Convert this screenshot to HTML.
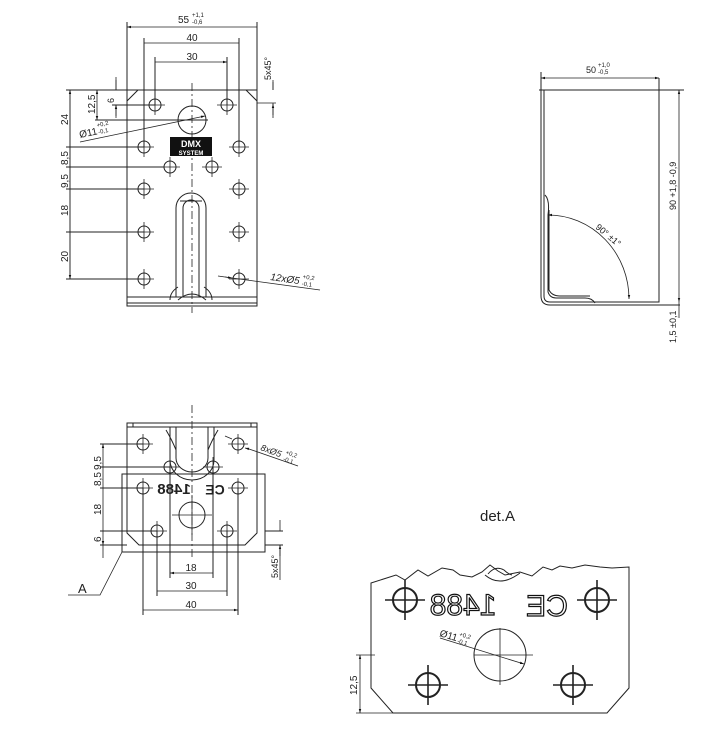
<!DOCTYPE html>
<html><head><meta charset="utf-8"><style>
html,body{margin:0;padding:0;background:#fff;}
svg{display:block;}
text{font-family:"Liberation Sans",sans-serif;fill:#222;}
</style></head><body>
<svg width="714" height="751" viewBox="0 0 714 751" xmlns="http://www.w3.org/2000/svg">
<defs>
<marker id="a" viewBox="0 0 10 10" refX="10" refY="5" markerWidth="7" markerHeight="5" orient="auto-start-reverse"><path d="M0,2 L10,5 L0,8z" fill="#111"/></marker>
<g id="h"><circle r="6" fill="none" stroke="#222" stroke-width="1"/><path d="M-10,0H10M0,-10V10" stroke="#222" stroke-width="0.8"/></g>
<g id="hb"><circle r="13" fill="none" stroke="#222" stroke-width="1"/><path d="M-20,0H20M0,-20V20" stroke="#222" stroke-width="0.8"/></g>
</defs>
<g stroke="#222" stroke-width="1" fill="none">
<!-- ===== TOP-LEFT VIEW ===== -->
<rect x="127" y="90" width="130" height="216"/>
<path d="M127,297H257M127,303H257"/>
<path d="M138,90L127,101M246,90L257,101"/>
<path d="M176,297V208A15,15 0 0 1 206,208V297"/>
<path d="M183,297V208A8,8 0 0 1 199,208V297"/>
<path d="M180,201H202M178,287Q170,292 170,300M204,287Q212,292 212,300M178,300Q192,288 206,300"/>
<path d="M192,83V313" stroke-dasharray="8,3,2,3" stroke-width="0.8"/>
<!-- dims top -->
<path d="M127,90V22M257,90V22M144,147V38M239,147V38M155,105V57M227,105V57"/>
<path d="M127,27H257M144,43H239M155,62H227" marker-start="url(#a)" marker-end="url(#a)" stroke-width="0.8"/>
<!-- left dims -->
<path d="M66,90H127M66,147H144M66,167H164M66,189H144M66,232H144M66,279H144M95,120H208M112,105H155"/>
<path d="M70,90V279" stroke-width="0.8"/>
<path d="M70,90V147M70,147V167M70,167V189M70,189V232M70,232V279" marker-start="url(#a)" marker-end="url(#a)" stroke-width="0.8"/>
<path d="M97,90V120" marker-start="url(#a)" marker-end="url(#a)" stroke-width="0.8"/>
<path d="M116,77V90M116,105V118M112,90H127" stroke-width="0.8"/>
<path d="M116,80V90M116,116V105" marker-end="url(#a)" stroke-width="0.8"/>
<path d="M257,103H276M273,80V90M273,118V103" stroke-width="0.8"/>
<path d="M273,82V90M273,115V104" marker-end="url(#a)" stroke-width="0.8"/>
<path d="M80,142L205,116" stroke-width="0.8" marker-end="url(#a)"/>
<path d="M225,277L320,290" stroke-width="0.8"/>
<path d="M218,276L232,278" marker-end="url(#a)" stroke-width="0.8"/>
<!-- ===== RIGHT VIEW ===== -->
<path d="M541,90V296Q541,305 550,305H680M544,90V296Q544,302 550,302H659V90H539"/>
<path d="M541,90H544"/>
<path d="M545,195Q550,200 548,215V292Q550,298 556,298H585Q592,298 595,303"/>
<path d="M549,210V290Q552,296 560,296H590"/>
<path d="M659,78V90M541,72V90"/>
<path d="M541,78H659" marker-start="url(#a)" marker-end="url(#a)" stroke-width="0.8"/>
<path d="M659,90H684"/>
<path d="M679,90V302" marker-start="url(#a)" marker-end="url(#a)" stroke-width="0.8"/>
<path d="M679,302V318" stroke-width="0.8"/>
<path d="M548,215A81,84 0 0 1 629,299" marker-start="url(#a)" marker-end="url(#a)" stroke-width="0.8"/>
<!-- ===== BOTTOM-LEFT VIEW ===== -->
<path d="M127,474V423H257V474"/>
<path d="M127,427H257M133,423V427M251,423V427"/>
<rect x="122" y="474" width="143" height="78"/>
<path d="M127,474V533L139,545H245L257,533V474"/>
<path d="M170,427V460A22,20 0 0 0 214,460V427"/>
<path d="M176,427V458A16,14 0 0 0 208,458V427"/>
<path d="M166,430Q172,440 176,450M218,430Q212,440 208,450"/>
<path d="M192,405V560" stroke-dasharray="8,3,2,3" stroke-width="0.8"/>
<path d="M100,444H143M100,467H170M100,488H143M100,531H157M100,545H127M265,545H283M265,531H283"/>
<path d="M103,444V467M103,467V488M103,488V531M103,531V545" marker-start="url(#a)" marker-end="url(#a)" stroke-width="0.8"/>
<path d="M103,545V558" stroke-width="0.8"/>
<path d="M280,520V531M280,556V545" marker-end="url(#a)" stroke-width="0.8"/>
<path d="M280,545V580" stroke-width="0.8"/>
<path d="M170,467V578M213,467V578M157,531V596M227,531V596M143,488V615M238,488V615"/>
<path d="M170,573H213M157,591H227M143,610H238" marker-start="url(#a)" marker-end="url(#a)" stroke-width="0.8"/>
<path d="M122,552L100,595H68" stroke-width="0.8"/>
<path d="M225,436L232,439M249,449L245,448" marker-end="url(#a)" stroke-width="0.8"/>
<path d="M249,449L298,466" stroke-width="0.8"/>
<!-- ===== DET A ===== -->
<path d="M371,688V583L396,575L405,580L418,570L428,576L442,568L453,570L460,575L472,577L482,572L490,565L498,571L505,575L520,572L532,576L543,567L552,570L560,566L572,568L585,565L600,567L612,568L629,567V688L607,713H393Z"/>
<path d="M488,574Q495,565 504,570Q508,574 512,575M485,575Q500,588 520,573"/>
<path d="M356,655H375M356,713H393" stroke-width="0.8"/>
<path d="M360,655V713" marker-start="url(#a)" marker-end="url(#a)" stroke-width="0.8"/>
<path d="M440,638L524,664" stroke-width="0.8" marker-end="url(#a)"/>
</g>
<!-- holes -->
<use href="#h" x="155" y="105"/><use href="#h" x="227" y="105"/>
<circle cx="192" cy="120" r="14" fill="none" stroke="#222"/>
<use href="#h" x="144" y="147"/><use href="#h" x="239" y="147"/>
<use href="#h" x="170" y="167"/><use href="#h" x="212" y="167"/>
<use href="#h" x="144" y="189"/><use href="#h" x="239" y="189"/>
<use href="#h" x="144" y="232"/><use href="#h" x="239" y="232"/>
<use href="#h" x="144" y="279"/><use href="#h" x="239" y="279"/>
<rect x="170" y="137" width="42" height="19" fill="#111"/>
<text x="191" y="147" font-size="9" font-weight="bold" text-anchor="middle" style="fill:#fff">DMX</text>
<text x="191" y="155" font-size="6" font-weight="bold" text-anchor="middle" style="fill:#fff">SYSTEM</text>
<use href="#h" x="143" y="444"/><use href="#h" x="238" y="444"/>
<use href="#h" x="170" y="467"/><use href="#h" x="213" y="467"/>
<use href="#h" x="143" y="488"/><use href="#h" x="238" y="488"/>
<use href="#hb" x="192" y="515"/>
<use href="#h" x="157" y="531"/><use href="#h" x="227" y="531"/>
<text transform="translate(174,490) scale(-1,1)" x="0" y="0" font-size="15" font-weight="bold" text-anchor="middle" dominant-baseline="middle">1488</text>
<text transform="translate(215,491) scale(-1,1)" font-size="14" font-weight="bold" text-anchor="middle" dominant-baseline="middle">CE</text>
<g transform="translate(405,600) scale(2)"><use href="#h"/></g>
<g transform="translate(597,600) scale(2)"><use href="#h"/></g>
<g transform="translate(428,685) scale(2)"><use href="#h"/></g>
<g transform="translate(573,685) scale(2)"><use href="#h"/></g>
<circle cx="500" cy="655" r="26" fill="none" stroke="#222"/>
<path d="M474,655H533M500,628V685" stroke="#222" stroke-width="0.8"/>
<text transform="translate(463,607) scale(-1,1)" font-size="30" text-anchor="middle" dominant-baseline="middle" style="fill:#fff;stroke:#111;stroke-width:1.2">1488</text>
<text transform="translate(547,608) scale(-1,1)" font-size="30" text-anchor="middle" dominant-baseline="middle" style="fill:#fff;stroke:#111;stroke-width:1.2">CE</text>
<!-- labels -->
<text x="178" y="23" font-size="10">55</text><text x="192" y="17" font-size="6">+1,1</text><text x="192" y="24" font-size="6">-0,6</text>
<text x="192" y="41" font-size="10" text-anchor="middle">40</text>
<text x="192" y="60" font-size="10" text-anchor="middle">30</text>
<text transform="translate(271,80) rotate(-90)" font-size="9">5x45°</text>
<text transform="translate(68,125) rotate(-90)" font-size="10">24</text>
<text transform="translate(68,165) rotate(-90)" font-size="10">8,5</text>
<text transform="translate(68,188) rotate(-90)" font-size="10">9,5</text>
<text transform="translate(68,216) rotate(-90)" font-size="10">18</text>
<text transform="translate(68,262) rotate(-90)" font-size="10">20</text>
<text transform="translate(95,114) rotate(-90)" font-size="10">12,5</text>
<text transform="translate(114,103) rotate(-90)" font-size="9">6</text>
<g transform="rotate(-12 80 138)"><text x="80" y="138" font-size="10">Ø11</text><text x="99" y="131" font-size="6">+0,2</text><text x="99" y="138" font-size="6">-0,1</text></g>
<g transform="rotate(8 270 280)"><text x="270" y="280" font-size="10" font-style="italic">12xØ5</text><text x="302" y="274" font-size="6">+0,2</text><text x="302" y="281" font-size="6">-0,1</text></g>
<text x="586" y="73" font-size="9">50</text><text x="598" y="67" font-size="6">+1,0</text><text x="598" y="74" font-size="6">-0,5</text>
<text transform="translate(676,210) rotate(-90)" font-size="9">90 +1,8 -0,9</text>
<text transform="translate(676,343) rotate(-90)" font-size="9">1,5 ±0,1</text>
<text transform="translate(595,228) rotate(40)" font-size="9">90° ±1°</text>
<text transform="translate(101,470) rotate(-90)" font-size="10">9,5</text>
<text transform="translate(101,486) rotate(-90)" font-size="10">8,5</text>
<text transform="translate(101,515) rotate(-90)" font-size="10">18</text>
<text transform="translate(101,542) rotate(-90)" font-size="10">6</text>
<text x="191" y="571" font-size="10" text-anchor="middle">18</text>
<text x="191" y="589" font-size="10" text-anchor="middle">30</text>
<text x="191" y="608" font-size="10" text-anchor="middle">40</text>
<text transform="translate(278,578) rotate(-90)" font-size="9">5x45°</text>
<text x="78" y="593" font-size="13">A</text>
<g transform="rotate(20 260 450)"><text x="260" y="450" font-size="9" font-style="italic">8xØ5</text><text x="285" y="445" font-size="6">+0,2</text><text x="285" y="452" font-size="6">-0,1</text></g>
<text x="480" y="521" font-size="15">det.A</text>
<text transform="translate(357,695) rotate(-90)" font-size="10">12,5</text>
<g transform="rotate(17 439 636)"><text x="439" y="636" font-size="10">Ø11</text><text x="458" y="630" font-size="6">+0,2</text><text x="458" y="637" font-size="6">-0,1</text></g>
</svg>
</body></html>
